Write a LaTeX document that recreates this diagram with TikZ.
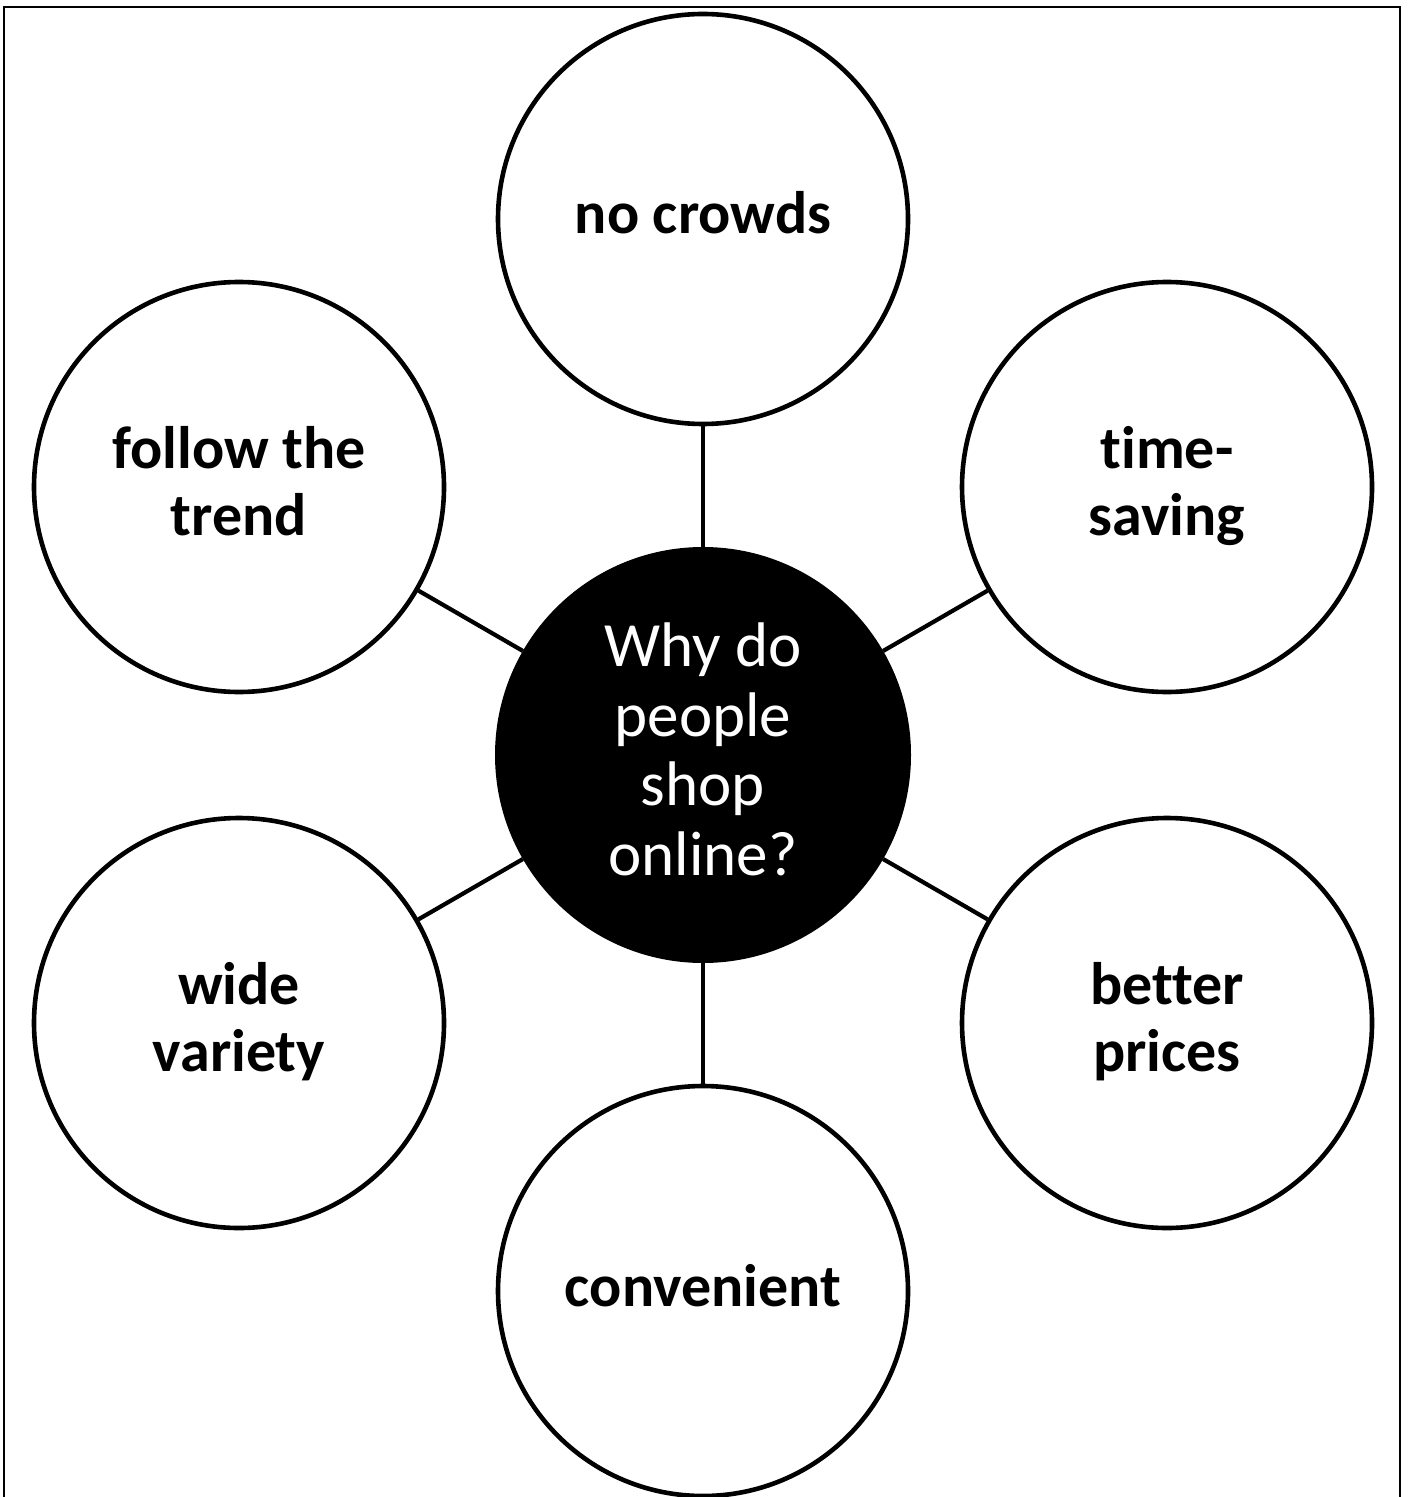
\documentclass[tikz,border=0pt]{standalone}
\usepackage{fontspec}
\setmainfont{Carlito}[Ligatures=NoCommon,RawFeature={-liga}]
\newcommand\lstrut{\rule[-0.25em]{0pt}{1em}}
\begin{document}
\begin{tikzpicture}[x=0.5pt,y=-0.5pt,
  leaf/.style={circle,draw=black,line width=2.3pt,fill=white,minimum size=205pt,inner sep=0pt,align=center,
    font=\fontsize{30}{33.5}\selectfont\bfseries},
  hub/.style={circle,fill=black,draw=black,line width=1pt,minimum size=207pt,inner sep=0pt,align=center,text=white,
    font=\fontsize{31.5}{34.75}\selectfont},
  link/.style={line width=2.1pt}]
\useasboundingbox (0,0) rectangle (1410,1497);
\draw[line width=1.2pt] (4,1530) -- (4,7) -- (1400,7) -- (1400,1530);
\node[hub] (c) at (703,755) {\lstrut Why do\\\lstrut people\\\lstrut shop\\\lstrut online?};
\node[leaf] (t)  at (703,219)  {\lstrut no crowds};
\node[leaf] (tr) at (1167,487) {\lstrut time-\\\lstrut saving};
\node[leaf] (br) at (1167,1023) {\lstrut better\\\lstrut prices};
\node[leaf] (b)  at (703,1291) {\lstrut convenient};
\node[leaf] (bl) at (239,1023) {\lstrut wide\\\lstrut variety};
\node[leaf] (tl) at (239,487)  {\lstrut follow the\\\lstrut trend};
\draw[link] (c) -- (t);
\draw[link] (c) -- (tr);
\draw[link] (c) -- (br);
\draw[link] (c) -- (b);
\draw[link] (c) -- (bl);
\draw[link] (c) -- (tl);
\end{tikzpicture}
\end{document}
